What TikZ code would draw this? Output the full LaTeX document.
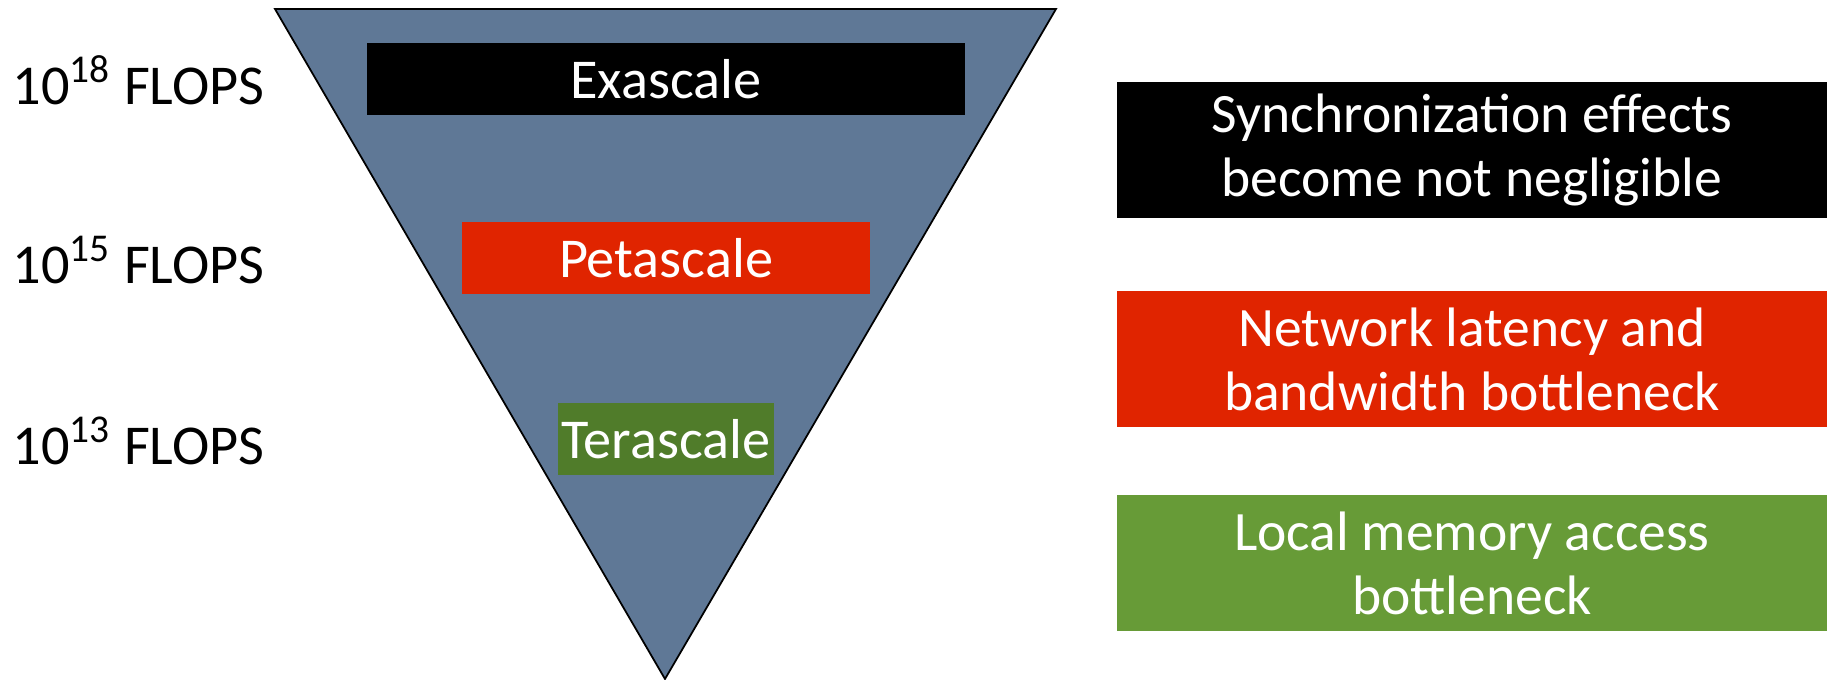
\documentclass[tikz,border=0pt]{standalone}
\usepackage{fontspec}
\setmainfont{Carlito}
\usepackage{tikz}

\definecolor{slate}{RGB}{95,120,150}
\definecolor{exared}{RGB}{224,36,0}
\definecolor{teragreen}{RGB}{80,124,42}
\definecolor{localgreen}{RGB}{103,155,55}

\tikzset{
  scalebox/.style={fill=#1, text=white, minimum height=0.72cm, inner sep=0pt, font=\fontsize{16}{19}\selectfont},
  effectbox/.style={fill=#1, text=white, minimum width=7.09cm, minimum height=1.36cm, inner sep=0pt, align=center, font=\fontsize{15.8}{18.2}\selectfont},
  flopslabel/.style={anchor=west, inner sep=0pt, font=\fontsize{16}{19}\selectfont}
}

\begin{document}
\begin{tikzpicture}[x=0.01cm, y=-0.01cm]

   \useasboundingbox (0,0) rectangle (1835,680);

   % the funnel
   \filldraw[fill=slate, draw=black, line width=0.5pt] (275,9) -- (1056,9) -- (665,679) -- cycle;

   % scales inside the funnel
   \node[scalebox=black, minimum width=5.98cm] (exa) at (666,79) {Exascale};
   \node[scalebox=exared, minimum width=4.07cm] (peta) at (666,258) {Petascale};
   \node[scalebox=teragreen, minimum width=2.16cm] (tera) at (666,439) {Terascale};

   % performance on the left
   \node[flopslabel] (f18) at (12,80) {10\textsuperscript{18} FLOPS};
   \node[flopslabel] (f15) at (12,260) {10\textsuperscript{15} FLOPS};
   \node[flopslabel] (f13) at (12,441) {10\textsuperscript{13} FLOPS};

   % effects on the right
   \node[effectbox=black] (sync) at (1472,150) {Synchronization effects\\become not negligible};
   \node[effectbox=exared] (net) at (1472,359) {Network latency and\\bandwidth bottleneck};
   \node[effectbox=localgreen] (mem) at (1472,563) {Local memory access\\bottleneck};

\end{tikzpicture}
\end{document}
